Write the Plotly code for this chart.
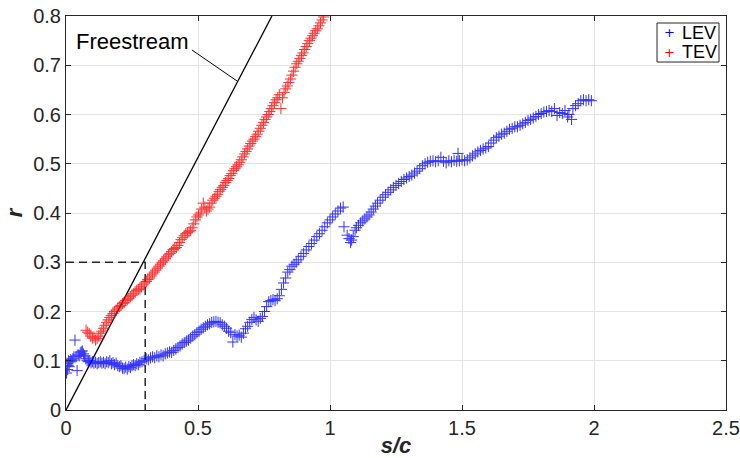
import plotly.graph_objects as go

# ---------------- data ----------------
lev_s = [0.002,0.004,0.006,0.008,0.010,0.012,0.015,0.018,0.022,0.026,0.030,0.034,0.038,0.042,0.046,0.050,0.054,0.058,0.062,0.066,
         0.070,0.075,0.080,0.085,0.090,0.095,0.100,0.106,0.112,0.118,0.124,0.130,0.136,0.142,0.148,0.154,0.160,0.166,0.172,0.178,
         0.184,0.190,0.196,0.202,0.208,0.214,0.220,0.226,0.232,0.238,0.244,0.250,0.256,0.262,0.268,0.274,0.280,0.288,0.296,0.304,
         0.312,0.320,0.328,0.336,0.344,0.352,0.360,0.368,0.376,0.384,0.392,0.400,0.408,0.416,0.424,0.432,0.440,0.448,0.456,0.464,
         0.472,0.480,0.488,0.496,0.504,0.512,0.520,0.528,0.536,0.544,0.552,0.560,0.568,0.576,0.584,0.592,0.600,0.608,0.616,0.624,
         0.632,0.640,0.648,0.656,0.664,0.672,0.680,0.688,0.696,0.704,0.712,0.720,0.728,0.736,0.744,0.752,0.760,0.768,0.776,0.784,
         0.792,0.800,0.808,0.816,0.824,0.832,0.840,0.848,0.856,0.864,0.872,0.880,0.890,0.900,0.910,0.920,0.930,0.940,0.950,0.960,
         0.970,0.980,0.990,1.000,1.010,1.020,1.030,1.040,1.050,
         1.053,1.065,1.072,1.078,1.082,1.088,1.095,1.100,1.108,1.116,1.124,1.132,1.140,1.148,1.156,1.164,1.172,1.180,1.190,1.200,
         1.210,1.220,1.230,1.240,1.250,1.260,1.270,1.280,1.290,1.300,1.310,1.320,1.330,1.340,1.350,1.360,1.370,1.380,1.390,1.400,
         1.410,1.420,1.430,1.440,1.450,1.460,1.470,1.480,1.485,1.490,1.500,1.510,1.520,1.530,1.540,1.550,1.560,1.570,1.580,1.590,
         1.600,1.610,1.620,1.630,1.640,1.650,1.660,1.670,1.680,1.690,1.700,1.710,1.720,1.730,1.740,1.750,1.760,1.770,1.780,1.790,
         1.800,1.810,1.820,1.830,1.840,1.850,1.860,1.870,1.880,1.890,1.900,1.905,1.915,1.920,1.930,1.940,1.950,1.960,1.970,1.980,1.990]
lev_r = [0.075,0.095,0.082,0.090,0.100,0.088,0.098,0.102,0.100,0.104,0.108,0.142,0.108,0.080,0.112,0.110,0.116,0.118,0.120,0.114,
         0.110,0.104,0.100,0.098,0.100,0.096,0.098,0.095,0.097,0.094,0.096,0.098,0.095,0.097,0.094,0.098,0.096,0.100,0.094,0.096,
         0.092,0.095,0.090,0.088,0.090,0.085,0.084,0.087,0.083,0.088,0.086,0.090,0.092,0.090,0.094,0.092,0.097,0.098,0.100,0.104,
         0.102,0.106,0.108,0.106,0.110,0.108,0.112,0.110,0.114,0.116,0.118,0.117,0.121,0.124,0.127,0.130,0.134,0.137,0.140,0.142,
         0.146,0.150,0.153,0.157,0.160,0.164,0.167,0.170,0.173,0.175,0.178,0.179,0.180,0.178,0.177,0.173,0.170,0.166,0.160,0.157,
         0.138,0.153,0.150,0.152,0.148,0.156,0.165,0.170,0.178,0.184,0.188,0.183,0.180,0.186,0.190,0.200,0.210,0.220,0.222,0.224,
         0.222,0.226,0.232,0.245,0.258,0.268,0.280,0.285,0.292,0.296,0.300,0.305,0.312,0.318,0.325,0.332,0.338,0.345,0.352,0.358,
         0.365,0.372,0.380,0.386,0.392,0.398,0.404,0.410,0.412,
         0.372,0.355,0.348,0.340,0.345,0.352,0.365,0.370,0.375,0.380,0.384,0.388,0.392,0.396,0.402,0.408,0.414,0.420,0.426,0.432,
         0.437,0.442,0.447,0.452,0.456,0.460,0.464,0.468,0.471,0.474,0.477,0.481,0.485,0.490,0.496,0.500,0.503,0.505,0.506,0.504,
         0.506,0.513,0.505,0.502,0.506,0.504,0.507,0.505,0.521,0.506,0.508,0.506,0.508,0.512,0.516,0.520,0.524,0.527,0.530,0.532,
         0.535,0.542,0.548,0.553,0.556,0.560,0.562,0.566,0.570,0.572,0.575,0.575,0.578,0.581,0.584,0.588,0.590,0.593,0.596,0.600,
         0.602,0.605,0.606,0.608,0.606,0.612,0.598,0.604,0.602,0.608,0.595,0.600,0.590,0.612,0.618,0.622,0.628,0.630,0.628,0.630,0.628]

tev_s = [0.076,0.082,0.088,0.094,0.100,0.106,0.112,0.118,0.124,0.130,0.136,0.142,0.148,0.154,0.160,0.166,0.172,0.178,0.184,0.190,
         0.196,0.202,0.208,0.214,0.220,0.226,0.232,0.238,0.244,0.250,0.256,0.262,0.268,0.274,0.280,0.286,0.292,0.298,0.304,0.310,
         0.316,0.322,0.328,0.334,0.340,0.346,0.352,0.358,0.364,0.370,0.376,0.382,0.388,0.394,0.400,0.406,0.412,0.418,0.424,0.430,
         0.436,0.442,0.448,0.454,0.460,0.466,0.472,0.478,0.484,0.490,0.496,0.502,0.508,0.514,0.520,0.526,0.532,0.538,0.544,0.550,
         0.556,0.562,0.568,0.574,0.580,0.586,0.592,0.598,0.604,0.610,0.616,0.622,0.628,0.634,0.640,0.646,0.652,0.658,0.664,0.670,
         0.676,0.682,0.688,0.694,0.700,0.706,0.712,0.718,0.724,0.730,0.736,0.742,0.748,0.754,0.760,0.766,0.772,0.778,0.784,0.790,
         0.796,0.802,0.808,0.814,0.820,0.826,0.832,0.838,0.844,0.850,0.856,0.862,0.868,0.874,0.880,0.886,0.892,0.898,0.904,0.910,
         0.916,0.922,0.928,0.934,0.940,0.946,0.952,0.958,0.964,0.970,0.976]
tev_r = [0.162,0.158,0.155,0.150,0.146,0.148,0.142,0.145,0.150,0.156,0.160,0.166,0.172,0.178,0.183,0.188,0.192,0.196,0.200,0.203,
         0.207,0.210,0.212,0.216,0.218,0.222,0.224,0.227,0.230,0.233,0.236,0.240,0.243,0.245,0.246,0.250,0.254,0.258,0.261,0.265,
         0.268,0.272,0.276,0.280,0.284,0.288,0.292,0.296,0.300,0.303,0.307,0.311,0.315,0.318,0.322,0.326,0.328,0.330,0.334,0.340,
         0.346,0.350,0.354,0.358,0.360,0.362,0.364,0.370,0.378,0.386,0.392,0.396,0.400,0.408,0.420,0.412,0.404,0.408,0.412,0.420,
         0.426,0.430,0.434,0.438,0.444,0.448,0.452,0.456,0.462,0.466,0.470,0.476,0.480,0.486,0.490,0.494,0.498,0.503,0.508,0.514,
         0.520,0.525,0.530,0.536,0.541,0.546,0.550,0.555,0.560,0.566,0.572,0.578,0.584,0.590,0.595,0.600,0.606,0.612,0.618,0.624,
         0.630,0.634,0.640,0.612,0.634,0.645,0.652,0.658,0.665,0.672,0.680,0.688,0.696,0.703,0.708,0.714,0.720,0.725,0.732,0.738,
         0.744,0.750,0.755,0.760,0.765,0.770,0.774,0.780,0.786,0.792,0.798]

freestream_s = [0.0, 0.78]
freestream_r = [0.0, 0.8]
ref_s = 0.3
ref_r = 0.3

series_names = ["LEV", "TEV"]
series_colors = ["#0000ff", "#ff0000"]

x_ticks = [0, 0.5, 1, 1.5, 2, 2.5]
x_labels = ["0", "0.5", "1", "1.5", "2", "2.5"]
y_ticks = [0, 0.1, 0.2, 0.3, 0.4, 0.5, 0.6, 0.7, 0.8]
y_labels = ["0", "0.1", "0.2", "0.3", "0.4", "0.5", "0.6", "0.7", "0.8"]

AX = "#262626"
FONT = "Liberation Sans, Arial, Helvetica, sans-serif"

fig = go.Figure()

fig.add_trace(go.Scatter(x=freestream_s, y=freestream_r, mode="lines",
                         line=dict(color="black", width=1.3), showlegend=False, hoverinfo="skip"))
fig.add_trace(go.Scatter(x=[0, ref_s, ref_s], y=[ref_r, ref_r, 0], mode="lines",
                         line=dict(color=AX, width=1.5, dash="8px,5px"), showlegend=False, hoverinfo="skip"))

for name, xs, ys, col in [(series_names[0], lev_s, lev_r, series_colors[0]),
                          (series_names[1], tev_s, tev_r, series_colors[1])]:
    fig.add_trace(go.Scatter(x=xs, y=ys, mode="markers", name=name, showlegend=False,
                             marker=dict(symbol="cross-thin", size=8, color=col,
                                         line=dict(color=col, width=1)), opacity=0.8))

fig.add_annotation(x=0.03, y=0.749, xref="x", yref="y", text="Freestream", showarrow=False,
                   xanchor="left", yanchor="middle", font=dict(family=FONT, size=22, color="black"))
fig.add_shape(type="line", xref="x", yref="y", x0=0.477, y0=0.731, x1=0.648, y1=0.668,
              line=dict(color="black", width=1))

# compact legend box (MATLAB style)
fig.add_shape(type="rect", xref="paper", yref="paper", x0=0.8955, x1=0.9894, y0=0.8832, y1=0.9822,
              line=dict(color=AX, width=1), fillcolor="white", layer="above")
for i, (name, col) in enumerate(zip(series_names, series_colors)):
    yy = 0.9569 - i * 0.0483
    fig.add_annotation(x=0.915, y=yy, xref="paper", yref="paper", text="+", showarrow=False,
                       xanchor="center", yanchor="middle",
                       font=dict(family="DejaVu Sans, sans-serif", size=13, color=col))
    fig.add_annotation(x=0.930, y=yy, xref="paper", yref="paper", text=name, showarrow=False,
                       xanchor="left", yanchor="middle",
                       font=dict(family=FONT, size=18, color="black"))

axis_common = dict(showline=True, linecolor=AX, linewidth=1, mirror="ticks", ticks="inside",
                   ticklen=5, tickcolor=AX, showgrid=True, gridcolor="#e3e3e3", gridwidth=1,
                   zeroline=False, automargin=False, tickfont=dict(family=FONT, size=20, color=AX))

fig.update_xaxes(range=[0, 2.5], tickvals=x_ticks, ticktext=x_labels,
                 title=dict(text="<b><i>s/c</i></b>", font=dict(family=FONT, size=22, color=AX), standoff=2),
                 **axis_common)
fig.update_yaxes(range=[0, 0.8], tickvals=y_ticks, ticktext=y_labels,
                 title=dict(text="<b><i>r</i></b>", font=dict(family=FONT, size=22, color=AX), standoff=4),
                 **axis_common)

fig.update_layout(
    width=740, height=458,
    margin=dict(l=66, r=14, t=16, b=48),
    paper_bgcolor="white", plot_bgcolor="white",
    showlegend=False,
)

fig.write_html("out.html")
